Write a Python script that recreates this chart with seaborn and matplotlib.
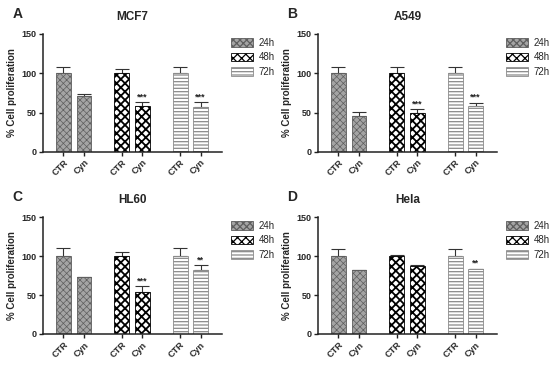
import seaborn as sns
import matplotlib.pyplot as plt
from matplotlib.patches import Patch
import pandas as pd

sns.set_style("ticks")
plt.rcParams["font.family"] = ["Liberation Sans", "DejaVu Sans"]
plt.rcParams["hatch.linewidth"] = 0.9

# data
conditions = ["CTR", "Cyn", "CTR", "Cyn", "CTR", "Cyn"]
times = ["24h", "24h", "48h", "48h", "72h", "72h"]
panels = ["A", "B", "C", "D"]
titles = ["MCF7", "A549", "HL60", "Hela"]
mcf7 = [100, 70.5, 100, 58, 100, 57]
mcf7_err = [7.5, 2.5, 5, 5, 8, 6]
mcf7_sig = ["", "", "", "***", "", "***"]
a549 = [100, 46, 100, 50, 100, 58]
a549_err = [8, 5, 8, 4.5, 8, 4.5]
a549_sig = ["", "", "", "***", "", "***"]
hl60 = [100, 73, 100, 54, 100, 82]
hl60_err = [10, 0.6, 5, 7, 10, 6]
hl60_sig = ["", "", "", "***", "", "**"]
hela = [100, 82, 100, 87.5, 100, 83.5]
hela_err = [9, 0.6, 2, 0.5, 8.5, 0.5]
hela_sig = ["", "", "", "", "", "**"]

values = [mcf7, a549, hl60, hela]
errors = [mcf7_err, a549_err, hl60_err, hela_err]
sigs = [mcf7_sig, a549_sig, hl60_sig, hela_sig]

positions = [0, 1, 2.85, 3.85, 5.7, 6.7]
styles = {
    "24h": dict(face="#a4a4a4", edge="#5e5e5e", hatch="xxxxx", hlw=0.5),
    "48h": dict(face="white", edge="black", hatch="xxxx", hlw=1.3),
    "72h": dict(face="white", edge="#8a8a8a", hatch="-----", hlw=0.9),
}


def style_patch(p, st):
    p.set_facecolor(st["face"])
    p.set_edgecolor(st["edge"])
    p.set_hatch(st["hatch"])
    p.set_linewidth(0.6)
    if hasattr(p, "set_hatch_linewidth"):
        p.set_hatch_linewidth(st["hlw"])


fig = plt.figure(figsize=(5.5, 3.65), dpi=100)
boxes = [
    [0.078, 0.584, 0.326, 0.323],
    [0.578, 0.584, 0.326, 0.323],
    [0.078, 0.085, 0.326, 0.320],
    [0.578, 0.085, 0.326, 0.320],
]

for i in range(4):
    ax = fig.add_axes(boxes[i])
    df = pd.DataFrame({"pos": positions, "val": values[i], "err": errors[i],
                       "time": times, "cond": conditions})
    for t, st in styles.items():
        sub = df[df["time"] == t]
        n0 = len(ax.patches)
        sns.barplot(data=sub, x="pos", y="val", native_scale=True, width=0.72,
                    color=st["face"], errorbar=None, ax=ax, zorder=2)
        for p in ax.patches[n0:]:
            style_patch(p, st)
    ax.errorbar(df["pos"], df["val"], yerr=[[0] * 6, df["err"]], fmt="none",
                ecolor="#333333", elinewidth=0.8, capsize=5, capthick=0.8,
                zorder=1)
    for x, y, e, s in zip(df["pos"], df["val"], df["err"], sigs[i]):
        if s:
            ax.text(x, y + e + 1, s, ha="center", va="bottom", fontsize=6.5,
                    fontweight="bold", color="#222222")
    ax.set_xlim(-1, 7.75)
    ax.set_ylim(0, 150)
    ax.set_yticks([0, 50, 100, 150])
    ax.set_xticks(positions)
    ax.set_xticklabels(conditions, rotation=45, ha="right",
                       rotation_mode="anchor", fontsize=6.5, fontweight="bold")
    for lab in ax.get_yticklabels():
        lab.set_fontsize(6.5)
        lab.set_fontweight("bold")
    ax.tick_params(length=3, width=1, pad=1.5, color="#222222")
    ax.set_xlabel("")
    ax.set_ylabel("% Cell proliferation", fontsize=7, fontweight="bold",
                  labelpad=3)
    ax.set_title(titles[i], fontsize=8.5, fontweight="bold", pad=10)
    for sp in ["top", "right"]:
        ax.spines[sp].set_visible(False)
    for sp in ["left", "bottom"]:
        ax.spines[sp].set_linewidth(1.1)
        ax.spines[sp].set_color("#222222")
    ax.text(-0.17, 1.17, panels[i], transform=ax.transAxes, fontsize=10,
            fontweight="bold", ha="left", va="center")
    handles = []
    for t, st in styles.items():
        h = Patch(label=t)
        style_patch(h, st)
        handles.append(h)
    ax.legend(handles=handles, loc="upper left", bbox_to_anchor=(1.03, 1.0),
              frameon=False, fontsize=7, handlelength=2.2, handleheight=1.0,
              labelspacing=0.45, handletextpad=0.6, borderaxespad=0)

fig.savefig("out.png", dpi=100)
